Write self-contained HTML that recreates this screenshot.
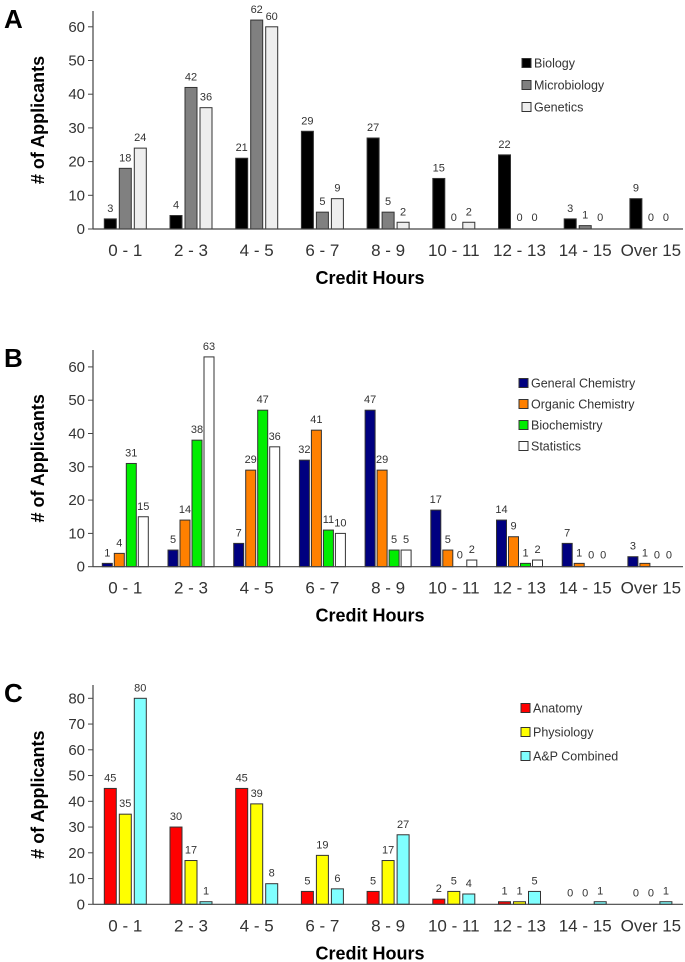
<!DOCTYPE html>
<html><head><meta charset="utf-8"><style>
html,body{margin:0;padding:0;background:#fff;}
svg{display:block;font-family:"Liberation Sans",sans-serif;}
</style></head><body>
<svg id="fig" width="685" height="962" viewBox="0 0 685 962" xmlns="http://www.w3.org/2000/svg"></svg>
<script>
const categories = ["0 - 1","2 - 3","4 - 5","6 - 7","8 - 9","10 - 11","12 - 13","14 - 15","Over 15"];
const seriesNamesA = ["Biology","Microbiology","Genetics"];
const biology = [3,4,21,29,27,15,22,3,9];
const microbiology = [18,42,62,5,5,0,0,1,0];
const genetics = [24,36,60,9,2,2,0,0,0];
const seriesNamesB = ["General Chemistry","Organic Chemistry","Biochemistry","Statistics"];
const generalChem = [1,5,7,32,47,17,14,7,3];
const organicChem = [4,14,29,41,29,5,9,1,1];
const biochem = [31,38,47,11,5,0,1,0,0];
const statistics = [15,63,36,10,5,2,2,0,0];
const seriesNamesC = ["Anatomy","Physiology","A&P Combined"];
const anatomy = [45,30,45,5,5,2,1,0,0];
const physiology = [35,17,39,19,17,5,1,0,0];
const apCombined = [80,1,8,6,27,4,5,1,1];
const ticksA = [0,10,20,30,40,50,60];
const ticksB = [0,10,20,30,40,50,60];
const ticksC = [0,10,20,30,40,50,60,70,80];

const NS="http://www.w3.org/2000/svg";
const svg=document.getElementById('fig');
function mk(tag,attrs,parent,text){const e=document.createElementNS(NS,tag);for(const k in attrs)e.setAttribute(k,attrs[k]);if(text!==undefined)e.textContent=text;(parent||svg).appendChild(e);return e;}

function panel(cfg){
  const g=mk('g',{});
  
  
  const x0=93,x1=683,c0=125.3,pitch=65.7;
  const xc=i=>c0+pitch*i;
  const y=v=>cfg.base-v*cfg.per;
  const lt=mk('text',{x:4,y:cfg.top+17,'font-size':26,'font-weight':'bold',fill:'#000'},g,cfg.letter);
  
  
  const yt=mk('text',{x:0,y:0,'font-size':18,'font-weight':'bold',fill:'#000','text-anchor':'middle',transform:`translate(44,${(cfg.top+cfg.base)/2}) rotate(-90)`},g,'# of Applicants');
  
  
  cfg.ticks.forEach(t=>{
    mk('line',{x1:x0-5,x2:x0,y1:y(t),y2:y(t),stroke:'#444','stroke-width':1},g);
    const tl=mk('text',{x:x0-8,y:y(t)+5,'font-size':15,fill:'#333','text-anchor':'end'},g,String(t));
    
    
  });
  const n=cfg.series.length;
  cfg.series.forEach((vals,s)=>{
    const off=(s-(n-1)/2)*cfg.bp;
    vals.forEach((v,i)=>{
      const bx=xc(i)+off-cfg.bw/2;
      const r=mk('rect',{x:bx,y:y(v),width:cfg.bw,height:Math.max(v*cfg.per,0),fill:cfg.colors[s],stroke:'#333','stroke-width':1},g);
      
      
      const vl=mk('text',{x:xc(i)+off,y:y(v)-(v===0?8:7),'font-size':11,fill:'#333','text-anchor':'middle'},g,String(v));
      
      
    });
  });
  mk('line',{x1:x0,x2:x0,y1:cfg.top,y2:cfg.base,stroke:'#444','stroke-width':1.2},g);
  mk('line',{x1:x0,x2:x1,y1:cfg.base,y2:cfg.base,stroke:'#444','stroke-width':1.2},g);
  categories.forEach((c,i)=>{
    const cl=mk('text',{x:xc(i),y:cfg.base+27,'font-size':17,fill:'#333','text-anchor':'middle'},g,c);
    
    
  });
  const xt=mk('text',{x:370,y:cfg.base+55,'font-size':18,'font-weight':'bold',fill:'#000','text-anchor':'middle'},g,'Credit Hours');
  
  
  cfg.names.forEach((nm,s)=>{
    const ly=cfg.legY+s*cfg.legGap;
    const le=mk('g',{},g);
    
    
    mk('rect',{x:cfg.legX,y:ly-4.5,width:9,height:9,fill:cfg.colors[s],stroke:'#333','stroke-width':1},le);
    mk('text',{x:cfg.legX+12,y:ly+4.5,'font-size':12.5,fill:'#333'},le,nm);
  });
}
panel({letter:'A',top:11,base:229,per:3.37,ticks:ticksA,series:[biology,microbiology,genetics],names:seriesNamesA,colors:['#000','#808080','#eeeeee'],bw:12,bp:15,legX:522,legY:63,legGap:22});
panel({letter:'B',top:350,base:566.7,per:3.33,ticks:ticksB,series:[generalChem,organicChem,biochem,statistics],names:seriesNamesB,colors:['#000080','#ff8000','#00ee00','#ffffff'],bw:10,bp:12,legX:519,legY:383,legGap:21});
panel({letter:'C',top:685,base:904.3,per:2.575,ticks:ticksC,series:[anatomy,physiology,apCombined],names:seriesNamesC,colors:['#ff0000','#ffff00','#80ffff'],bw:12,bp:15,legX:521,legY:708,legGap:24});
</script>
</body></html>
